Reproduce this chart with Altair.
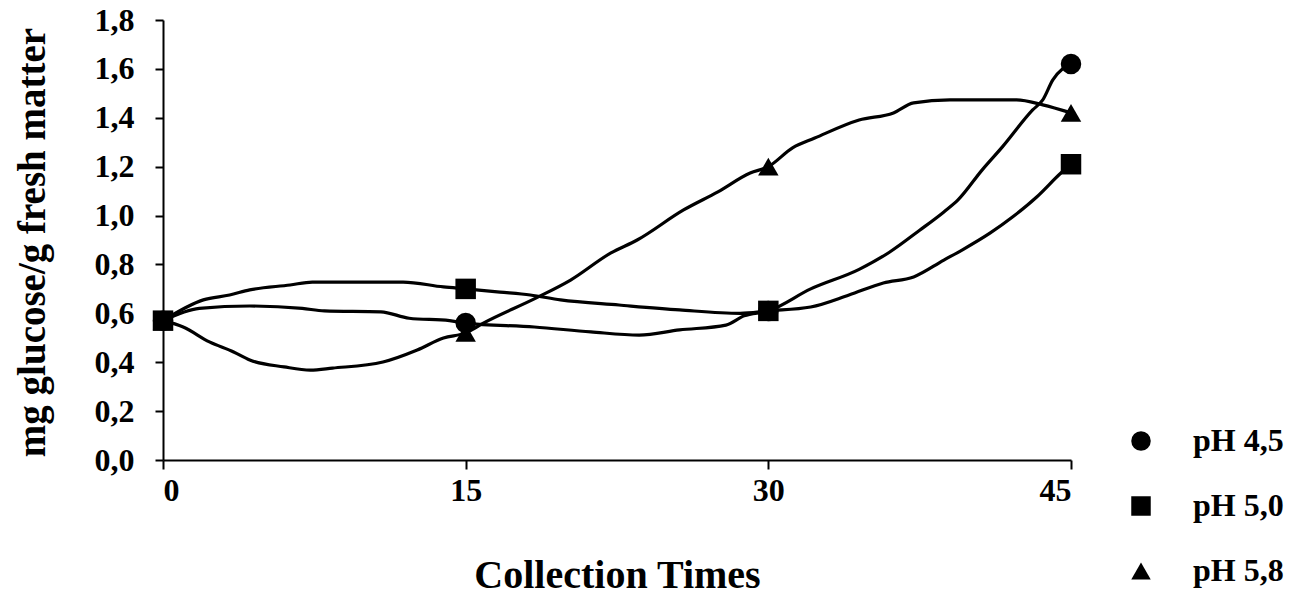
import altair as alt
import pandas as pd

series = ["pH 4,5", "pH 5,0", "pH 5,8"]
times = [0, 15, 30, 45]
y_ticks = [0.0, 0.2, 0.4, 0.6, 0.8, 1.0, 1.2, 1.4, 1.6, 1.8]

# measured points (markers)
ph45 = [0.57, 0.56, 0.61, 1.62]
ph50 = [0.57, 0.70, 0.61, 1.21]
ph58 = [0.57, 0.52, 1.20, 1.42]

# smooth connecting curves
ph45_curve_t = [0, 1.8, 4.3, 6.9, 8.0, 10.8, 12.2, 14.2, 15, 18.4, 21.2, 23.6, 25.6, 27.9, 28.8, 30,
                32.1, 34.5, 36.0, 37.5, 38.7, 39.4, 40.6, 41.6, 43.1, 43.6, 44.1, 45]
ph45_curve_v = [0.57, 0.62, 0.63, 0.62, 0.61, 0.606, 0.58, 0.57, 0.56, 0.544, 0.524, 0.511, 0.532, 0.552, 0.59, 0.61,
                0.70, 0.78, 0.85, 0.94, 1.015, 1.064, 1.187, 1.281, 1.432, 1.473, 1.555, 1.62]

ph50_curve_t = [0, 2.0, 3.3, 4.3, 6.3, 7.4, 11.9, 13.9, 15, 16.7, 18.2, 19.7, 22.6, 25.6, 28.6, 30,
                32.1, 34.0, 35.7, 37.2, 38.7, 39.6, 41.0, 42.1, 43.3, 44.5, 45]
ph50_curve_v = [0.57, 0.655, 0.675, 0.696, 0.716, 0.728, 0.728, 0.708, 0.70, 0.687, 0.675, 0.655, 0.634, 0.614, 0.60, 0.61,
                0.626, 0.675, 0.724, 0.749, 0.818, 0.859, 0.929, 0.994, 1.076, 1.174, 1.21]

ph58_curve_t = [0, 1.0, 2.3, 3.5, 4.3, 6.0, 7.3, 8.4, 10.9, 12.6, 13.9, 15, 15.9, 18.5, 20.2, 22.2, 23.5, 25.8,
                27.5, 29.1, 30, 31.2, 32.3, 34.5, 36.2, 37.2, 39.0, 42.3, 43.6, 45]
ph58_curve_v = [0.57, 0.544, 0.483, 0.442, 0.409, 0.381, 0.368, 0.376, 0.401, 0.45, 0.499, 0.52, 0.561, 0.663, 0.736,
                0.847, 0.90, 1.023, 1.097, 1.174, 1.20, 1.277, 1.317, 1.391, 1.42, 1.461, 1.473, 1.473, 1.453, 1.42]

curve_rows = []
for name, ts, vs in [(series[0], ph45_curve_t, ph45_curve_v),
                     (series[1], ph50_curve_t, ph50_curve_v),
                     (series[2], ph58_curve_t, ph58_curve_v)]:
    for t, v in zip(ts, vs):
        curve_rows.append({"t": t, "v": v, "series": name})
curve_df = pd.DataFrame(curve_rows)

point_rows = []
# drawing order: circle, triangle, square (square on top)
for name, vals in [(series[0], ph45), (series[2], ph58), (series[1], ph50)]:
    for t, v in zip(times, vals):
        point_rows.append({"t": t, "v": v, "series": name})
point_df = pd.DataFrame(point_rows)

FONT = "Liberation Serif"

x_enc = alt.X(
    "t:Q",
    scale=alt.Scale(domain=[0, 45], nice=False),
    axis=alt.Axis(
        values=times, title="Collection Times", grid=False,
        labelFont=FONT, labelFontSize=32, labelFontWeight="bold", labelColor="black",
        labelPadding=6, tickSize=9, tickWidth=2, tickColor="black",
        domainColor="black", domainWidth=2,
        titleFont=FONT, titleFontSize=40, titleFontWeight="bold", titleColor="black",
        titleBaseline="alphabetic", titleY=127,
    ),
)
y_enc = alt.Y(
    "v:Q",
    scale=alt.Scale(domain=[0, 1.8], nice=False),
    axis=alt.Axis(
        values=y_ticks, title="mg glucose/g fresh matter", grid=False,
        labelExpr="replace(format(datum.value, '.1f'), '.', ',')",
        labelFont=FONT, labelFontSize=32, labelFontWeight="bold", labelColor="black",
        labelPadding=21, tickSize=8, tickWidth=2, tickColor="black",
        domainColor="black", domainWidth=2,
        titleFont=FONT, titleFontSize=39, titleFontWeight="bold", titleColor="black",
        titleX=-111, titleY=222, titleBaseline="bottom",
    ),
)

lines = alt.Chart(curve_df).mark_line(
    color="black", strokeWidth=3.2, interpolate="monotone"
).encode(x=x_enc, y=y_enc, detail="series:N")

points = alt.Chart(point_df).mark_point(
    filled=True, opacity=1, color="black", size=420
).encode(
    x="t:Q",
    y="v:Q",
    shape=alt.Shape(
        "series:N",
        scale=alt.Scale(domain=series, range=["circle", "square", "triangle-up"]),
        legend=alt.Legend(
            title=None, orient="none", legendX=962, legendY=405,
            symbolSize=380, symbolFillColor="black", symbolStrokeColor="black",
            symbolOpacity=1, symbolStrokeWidth=0,
            labelFont=FONT, labelFontSize=32, labelFontWeight="bold", labelColor="black",
            labelOffset=36, rowPadding=33, symbolOffset=0,
        ),
    ),
)

chart = alt.layer(lines, points).properties(
    width=908, height=440,
    autosize=alt.AutoSizeParams(type="none"),
    padding={"left": 155, "top": 12, "right": 217, "bottom": 136},
    background="white",
).configure_view(stroke=None)

chart.save("out.html", embed_options={"renderer": "svg", "actions": False})
